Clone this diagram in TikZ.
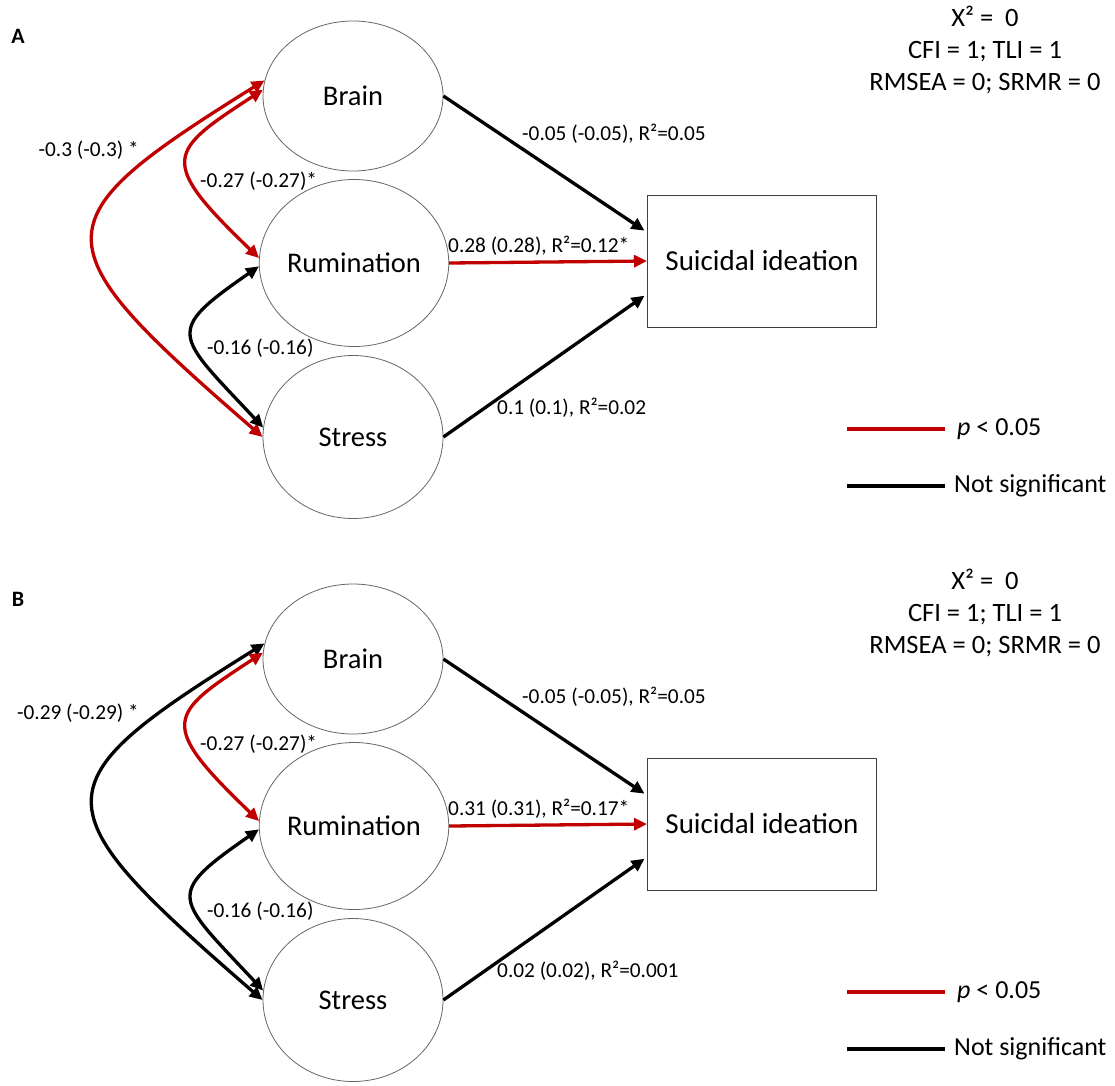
\documentclass[tikz,border=0pt]{standalone}
\usepackage{fontspec}
\setmainfont{Carlito}
\usetikzlibrary{arrows.meta, shapes.geometric}

\definecolor{sigred}{HTML}{C00000}

\begin{document}
\begin{tikzpicture}[x=1pt, y=-1pt,
    latent/.style={draw=black!60, line width=0.8pt, ellipse, minimum width=180pt, inner sep=0pt, font=\fontsize{28.5}{34}\selectfont},
    observed/.style={draw=black!75, line width=1pt, minimum width=229pt, minimum height=132pt, font=\fontsize{29}{35}\selectfont},
    conn/.style={line width=3.3pt, -{Triangle[length=13pt, width=12pt]}},
    cov/.style={line width=3.3pt, {Triangle[length=13pt, width=12pt]}-{Triangle[length=13pt, width=12pt]}},
    coef/.style={font=\fontsize{21.3}{25}\selectfont, inner sep=0pt},
    legtxt/.style={font=\fontsize{26}{30}\selectfont, inner sep=0pt}]

    \useasboundingbox (0,0) rectangle (1115,1085);

    % Panels A and B
    \foreach \p/\dy/\bigcol/\bigtxt/\rumtxt/\strtxt in {
        A/0/sigred/{-0.3 (-0.3) *}/{0.28 (0.28), R²=0.12*}/{0.1 (0.1), R²=0.02},
        B/563/black/{-0.29 (-0.29) *}/{0.31 (0.31), R²=0.17*}/{0.02 (0.02), R²=0.001}
    } {
        \node[font=\bfseries\fontsize{22}{26}\selectfont] (tag\p) at (18, 36+\dy) {\p};

        % Variables
        \node[latent, minimum height=150pt] (brain\p) at (353, 96+\dy) {Brain};
        \node[latent, minimum width=182pt, minimum height=167pt] (rum\p) at (354, 263+\dy) {Rumination};
        \node[latent, minimum height=163pt] (stress\p) at (353, 437+\dy) {Stress};
        \node[observed] (si\p) at (762, 261+\dy) {Suicidal ideation};

        % Fit indices
        \node[align=center, font=\fontsize{26.5}{32}\selectfont] (fit\p) at (985, 50+\dy)
            {X² =\ \ 0\\CFI = 1; TLI = 1\\RMSEA = 0; SRMR = 0};

        % Covariances
        \draw[cov, \bigcol] (brain\p.170) .. controls +(-228,142) and +(-225,-195) .. (stress\p.180);
        \draw[cov, sigred] (brain\p.176) .. controls +(-95,62) and +(-102,-98) .. (rum\p.177);
        \draw[cov] (rum\p.182) .. controls +(-95,66) and +(-88,-94) .. (stress\p.174);

        % Regressions
        \draw[conn, shorten >=3pt] (brain\p.east) -- (si\p.166);
        \draw[conn, sigred] (rum\p.east) -- (si\p.west);
        \draw[conn, shorten >=3pt] (stress\p.east) -- (si\p.196);

        % Coefficients
        \node[coef, anchor=east] (lbig\p) at (139, 150+\dy) {\bigtxt};
        \node[coef, anchor=west] (lbr\p) at (200, 181+\dy) {-0.27 (-0.27)*};
        \node[coef, anchor=west] (lrs\p) at (207, 348+\dy) {-0.16 (-0.16)};
        \node[coef, anchor=west] (lbsi\p) at (522, 134+\dy) {-0.05 (-0.05), R²=0.05};
        \node[coef, anchor=west] (lrsi\p) at (448, 246+\dy) {\rumtxt};
        \node[coef, anchor=west] (lssi\p) at (497, 408+\dy) {\strtxt};

        % Legend
        \coordinate (lsig\p) at (847, 429+\dy);
        \coordinate (lns\p) at (847, 486+\dy);
        \draw[line width=3.3pt, sigred] (lsig\p) -- ++(98,0);
        \draw[line width=3.3pt] (lns\p) -- ++(98,0);
        \node[legtxt, anchor=west] (tsig\p) at (957, 429+\dy) {\textit{p} < 0.05};
        \node[legtxt, anchor=west] (tns\p) at (954, 486+\dy) {Not significant};
    }
\end{tikzpicture}
\end{document}
